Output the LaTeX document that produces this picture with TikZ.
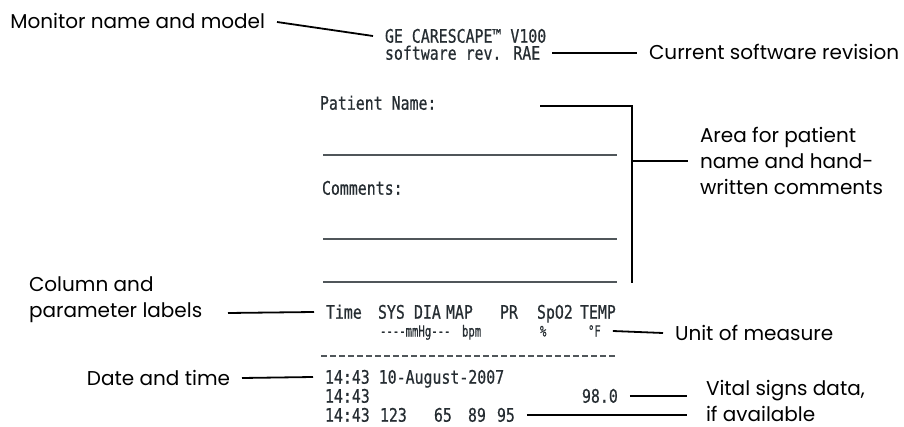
\documentclass[tikz,border=0pt]{standalone}
\usepackage{fontspec}
\setmainfont{Poppins}
\newfontfamily\prtfont[FakeStretch=0.8,FakeBold=0.6]{DejaVu Sans Mono}
\newfontfamily\prtsmfont[FakeStretch=0.7,FakeBold=0.5]{DejaVu Sans Mono}

\definecolor{ink}{RGB}{38,45,50}
\definecolor{rulegray}{RGB}{80,86,90}

\tikzset{
  lbl/.style={font=\fontsize{10}{13}\selectfont, inner sep=0pt, outer sep=6pt, text height=7pt, text depth=0pt},
  lbls/.style={font=\fontsize{10}{13}\selectfont, align=left, inner sep=0pt, outer sep=6pt},
  prt/.style={font=\prtfont\fontsize{9.3}{10}\selectfont, text=ink, inner sep=0pt, outer sep=6pt, text height=6.7pt, text depth=0pt},
  prtsm/.style={prt, font=\prtsmfont\fontsize{7.6}{8}\selectfont, text height=5.5pt},
  rule/.style={draw=rulegray, line width=0.7pt},
  conn/.style={draw=black, line width=0.9pt},
}

\begin{document}
\begin{tikzpicture}[x=0.5pt,y=-0.5pt]
      \useasboundingbox (0,0) rectangle (904,427);

      % printout header
      \node[prt,anchor=west] (ge) at (373,36) {GE CARESCAPE™ V100};
      \node[prt,anchor=west] (rev) at (373,53) {software rev. RAE};
      \node[prt,anchor=west] (pname) at (308,103) {Patient Name:};
      \node[prt,anchor=west] (cmts) at (310,188) {Comments:};

      \draw[rule] (323,155) -- (617,155);
      \draw[rule] (323,239) -- (617,239);
      \draw[rule] (323,282) -- (617,282);

      % column labels
      \node[prt,anchor=west] (time) at (314,312) {Time};
      \node[prt,anchor=west] (sys) at (366,312) {SYS};
      \node[prt,anchor=west] (dia) at (402,312) {DIA};
      \node[prt,anchor=west] (map) at (434,312) {MAP};
      \node[prt,anchor=west] (pr) at (488,312) {PR};
      \node[prt,anchor=west] (spo) at (525,312) {SpO2};
      \node[prt,anchor=west] (tmp) at (568,312) {TEMP};

      \node[prtsm,anchor=west] (mmhg) at (368,331) {----mmHg---};
      \node[prtsm,anchor=west] (bpm) at (450,331) {bpm};
      \node[prtsm,anchor=west] (pct) at (528,331) {\%};
      \node[prtsm,anchor=west] (degf) at (576,331) {°F};

      \draw[rule,dash pattern=on 3pt off 1.5pt] (321,356) -- (617,356);

      % data rows
      \node[prt,anchor=west] (d1) at (313,377) {14:43 10-August-2007};
      \node[prt,anchor=west] (d2) at (313,396) {14:43};
      \node[prt,anchor=west] (vtemp) at (570,396) {98.0};
      \node[prt,anchor=west] (d3) at (313,415) {14:43};
      \node[prt,anchor=west] (vsys) at (368,415) {123};
      \node[prt,anchor=west] (vdia) at (422,415) {65};
      \node[prt,anchor=west] (vmap) at (456,415) {89};
      \node[prt,anchor=west] (vpr) at (485,415) {95};

      % callouts
      \node[lbl,anchor=east] (mon) at (277,22) {Monitor name and model};
      \node[lbl,anchor=west] (cur) at (637,53) {Current software revision};
      \node[lbls,anchor=north west] (area) at (688,115) {Area for patient\\name and hand-\\written comments};
      \node[lbls,anchor=north west] (col) at (17,265) {Column and\\parameter labels};
      \node[lbl,anchor=west] (unit) at (663,333) {Unit of measure};
      \node[lbl,anchor=east] (dt) at (242,378) {Date and time};
      \node[lbls,anchor=north west] (vital) at (694,368) {Vital signs data,\\if available};

      \coordinate (bl) at (540,106);
      \coordinate (bt) at (632,106);
      \coordinate (bb) at (632,283);
      \coordinate (colend) at (228,313);
      \coordinate (vend) at (687,410);

      \draw[conn] (mon.east) -- (ge.west);
      \draw[conn] (rev.east) -- (cur.west);
      \draw[conn] (bl) -- (bt) -- (bb);
      \draw[conn] (area.west -| bt) -- (area.west);
      \draw[conn] (colend) -- (time.west);
      \draw[conn] (degf.east) -- (unit.west);
      \draw[conn] (dt.east) -- (d1.west);
      \draw[conn] (vtemp.east) -- (vtemp.east -| vend);
      \draw[conn] (vpr.east) -- (vpr.east -| vend);
\end{tikzpicture}
\end{document}
